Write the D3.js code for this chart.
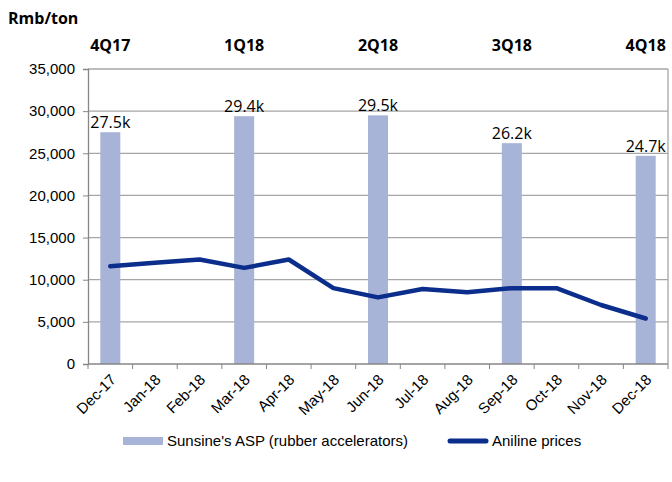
<!DOCTYPE html>
<html>
<head>
<meta charset="utf-8">
<script src="https://cdn.jsdelivr.net/npm/d3@7"></script>
<style>
  body { margin: 0; background: #fff; }
  text { font-family: "Liberation Sans", Arial, sans-serif; }
  .bold { font-family: "Open Sans", sans-serif; font-weight: bold; }
  .val { font-family: "Open Sans", sans-serif; }
</style>
</head>
<body>
<script>
const months = ["Dec-17", "Jan-18", "Feb-18", "Mar-18", "Apr-18", "May-18", "Jun-18",
                "Jul-18", "Aug-18", "Sep-18", "Oct-18", "Nov-18", "Dec-18"];
const aniline = [11600, 12000, 12400, 11400, 12400, 9000, 7900, 8900, 8500, 9000, 9000, 7000, 5400];
const aspMonths = ["Dec-17", "Mar-18", "Jun-18", "Sep-18", "Dec-18"];
const aspValues = [27500, 29400, 29500, 26200, 24700];
const aspLabels = ["27.5k", "29.4k", "29.5k", "26.2k", "24.7k"];
const quarters = ["4Q17", "1Q18", "2Q18", "3Q18", "4Q18"];
const yTicks = [0, 5000, 10000, 15000, 20000, 25000, 30000, 35000];

var margin = { top: 69, right: 4, bottom: 118, left: 88 },
    width = 672 - margin.left - margin.right,
    height = 482 - margin.top - margin.bottom;

var svg = d3.select("body").append("svg")
    .attr("width", 672)
    .attr("height", 482);

var g = svg.append("g")
    .attr("transform", "translate(" + margin.left + "," + margin.top + ")");

var x = d3.scaleBand().domain(months).range([0, width]);
var y = d3.scaleLinear().domain([0, 35000]).range([height, 0]);

// gridlines
g.selectAll(".grid")
    .data(yTicks.slice(1))
    .enter().append("line")
    .attr("x1", 0).attr("x2", width)
    .attr("y1", d => y(d)).attr("y2", d => y(d))
    .style("stroke", "#a6a6a6").style("stroke-width", 1.3);

// right border
g.append("line")
    .attr("x1", width).attr("x2", width)
    .attr("y1", 0).attr("y2", height)
    .style("stroke", "#a6a6a6").style("stroke-width", 1.3);

// y axis
var yAxis = g.append("g")
    .call(d3.axisLeft(y).tickValues(yTicks).tickSize(5).tickPadding(8)
        .tickFormat(d3.format(",")));
yAxis.select(".domain").style("stroke", "#868686").style("stroke-width", 1.3);
yAxis.selectAll(".tick line").style("stroke", "#868686");
yAxis.selectAll("text")
    .style("font-size", "15px")
    .style("font-family", "Liberation Sans, Arial, sans-serif")
    .style("fill", "#000");

// bars
var bw = 20;
g.selectAll(".bar")
    .data(aspValues)
    .enter().append("rect")
    .attr("x", (d, i) => x(aspMonths[i]) + x.bandwidth() / 2 - bw / 2)
    .attr("y", d => y(d))
    .attr("width", bw)
    .attr("height", d => height - y(d))
    .style("fill", "#a8b3d8");

g.selectAll(".val")
    .data(aspValues)
    .enter().append("text")
    .attr("class", "val")
    .attr("x", (d, i) => x(aspMonths[i]) + x.bandwidth() / 2)
    .attr("y", d => y(d) - 4)
    .attr("text-anchor", "middle")
    .style("font-size", "16px")
    .text((d, i) => aspLabels[i]);

// x axis
var ticks = d3.range(months.length + 1);
g.selectAll(".xt")
    .data(ticks)
    .enter().append("line")
    .attr("x1", d => d * x.step()).attr("x2", d => d * x.step())
    .attr("y1", height).attr("y2", height + 5)
    .style("stroke", "#868686");
g.append("line")
    .attr("x1", 0).attr("x2", width)
    .attr("y1", height).attr("y2", height)
    .style("stroke", "#868686").style("stroke-width", 1.3);

g.selectAll(".xl")
    .data(months)
    .enter().append("text")
    .attr("transform", d => "translate(" + (x(d) + x.bandwidth() / 2 + 3) + "," + (height + 13) + ") rotate(-45)")
    .attr("text-anchor", "end")
    .attr("dy", "0.35em")
    .style("font-size", "15px")
    .text(d => d);

// aniline line
var line = d3.line()
    .x((d, i) => x(months[i]) + x.bandwidth() / 2)
    .y(d => y(d));
g.append("path")
    .datum(aniline)
    .attr("d", line)
    .style("fill", "none")
    .style("stroke", "#0b2d8b")
    .style("stroke-width", 4.5)
    .style("stroke-linecap", "round")
    .style("stroke-linejoin", "round");

// titles
svg.append("text")
    .attr("class", "bold")
    .attr("x", 8).attr("y", 24)
    .style("font-size", "16px")
    .text("Rmb/ton");

g.selectAll(".q")
    .data(quarters)
    .enter().append("text")
    .attr("class", "bold")
    .attr("x", (d, i) => x(aspMonths[i]) + x.bandwidth() / 2)
    .attr("y", -18)
    .attr("text-anchor", "middle")
    .style("font-size", "16px")
    .text(d => d);

// legend
var legend = svg.append("g").attr("transform", "translate(0,441)");
legend.append("rect")
    .attr("x", 123).attr("y", -4).attr("width", 40).attr("height", 8)
    .style("fill", "#a8b3d8");
legend.append("text")
    .attr("x", 167).attr("y", 0).attr("dy", "0.35em")
    .style("font-size", "15px")
    .text("Sunsine's ASP (rubber accelerators)");
legend.append("line")
    .attr("x1", 450).attr("x2", 486).attr("y1", 0).attr("y2", 0)
    .style("stroke", "#0b2d8b").style("stroke-width", 5)
    .style("stroke-linecap", "round");
legend.append("text")
    .attr("x", 492).attr("y", 0).attr("dy", "0.35em")
    .style("font-size", "15px")
    .text("Aniline prices");
</script>
</body>
</html>
